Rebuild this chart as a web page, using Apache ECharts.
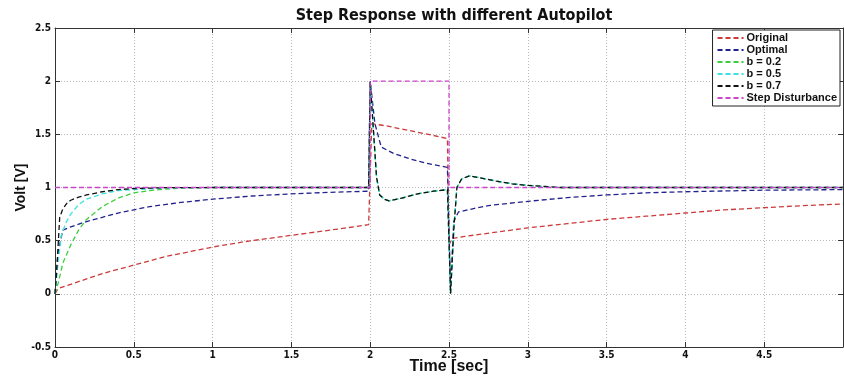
<!DOCTYPE html>
<html>
<head>
<meta charset="utf-8">
<script src="https://cdn.jsdelivr.net/npm/echarts@6/dist/echarts.min.js"></script>
<style>
  html, body { margin: 0; padding: 0; background: #fff; }
  #chart { width: 844px; height: 376px; }
</style>
</head>
<body>
<div id="chart"></div>
<script>
// values, [time, volt]
const original = [[0, 0], [0.02, 0.05], [0.1, 0.09], [0.2, 0.14], [0.3, 0.19], [0.4, 0.23], [0.5, 0.27],
  [0.6, 0.31], [0.7, 0.35], [0.8, 0.38], [0.9, 0.41], [1.0, 0.44], [1.2, 0.49], [1.4, 0.53], [1.6, 0.57],
  [1.8, 0.61], [1.99, 0.65], [2.01, 1.6], [2.1, 1.58], [2.2, 1.55], [2.3, 1.52], [2.4, 1.49], [2.49, 1.46],
  [2.5, 0.46], [2.52, 0.52], [2.6, 0.54], [2.8, 0.58], [3.0, 0.62], [3.25, 0.66], [3.5, 0.7], [3.75, 0.73],
  [4.0, 0.76], [4.25, 0.79], [4.5, 0.81], [4.75, 0.83], [5.0, 0.845]]

const optimal = [[0, 0], [0.02, 0.4], [0.05, 0.6], [0.1, 0.63], [0.2, 0.68], [0.3, 0.72], [0.4, 0.76],
  [0.5, 0.79], [0.6, 0.82], [0.8, 0.86], [1.0, 0.89], [1.25, 0.92], [1.5, 0.94], [1.75, 0.955], [1.99, 0.965],
  [2.0, 2.0], [2.03, 1.6], [2.07, 1.38], [2.15, 1.32], [2.25, 1.27], [2.35, 1.23], [2.49, 1.19], [2.5, 0.6],
  [2.51, 0.05], [2.53, 0.68], [2.56, 0.77], [2.65, 0.8], [2.75, 0.83], [3.0, 0.87], [3.25, 0.905], [3.5, 0.93],
  [3.75, 0.95], [4.0, 0.96], [4.5, 0.975], [5.0, 0.98]]

const b02 = [[0, 0], [0.02, 0.1], [0.05, 0.29], [0.1, 0.46], [0.15, 0.6], [0.2, 0.7], [0.3, 0.82], [0.4, 0.9],
  [0.5, 0.95], [0.6, 0.97], [0.7, 0.985], [0.8, 0.995], [1.0, 1.0], [1.99, 1.0],
  [2.0, 2.0], [2.02, 1.55], [2.04, 1.1], [2.06, 0.93], [2.09, 0.89], [2.12, 0.875], [2.2, 0.9], [2.3, 0.94],
  [2.4, 0.965], [2.49, 0.98], [2.5, 0.5], [2.51, 0.0], [2.53, 0.6], [2.55, 1.0], [2.58, 1.08], [2.63, 1.11],
  [2.7, 1.09], [2.8, 1.06], [2.9, 1.035], [3.0, 1.02], [3.1, 1.01], [3.2, 1.0], [5.0, 1.0]]

const b05 = [[0, 0], [0.02, 0.3], [0.04, 0.55], [0.07, 0.67], [0.1, 0.75], [0.15, 0.84], [0.2, 0.89],
  [0.3, 0.94], [0.4, 0.97], [0.5, 0.98], [0.7, 0.995], [1.0, 1.0], [1.99, 1.0],
  [2.0, 2.0], [2.02, 1.55], [2.04, 1.1], [2.06, 0.93], [2.09, 0.89], [2.12, 0.875], [2.2, 0.9], [2.3, 0.94],
  [2.4, 0.965], [2.49, 0.98], [2.5, 0.5], [2.51, 0.0], [2.53, 0.6], [2.55, 1.0], [2.58, 1.08], [2.63, 1.11],
  [2.7, 1.09], [2.8, 1.06], [2.9, 1.035], [3.0, 1.02], [3.1, 1.01], [3.2, 1.0], [5.0, 1.0]]

const b07 = [[0, 0], [0.01, 0.2], [0.03, 0.72], [0.05, 0.8], [0.08, 0.86], [0.1, 0.88], [0.15, 0.91],
  [0.2, 0.93], [0.3, 0.96], [0.4, 0.98], [0.5, 0.99], [0.7, 0.998], [1.0, 1.0], [1.99, 1.0],
  [2.0, 2.0], [2.02, 1.55], [2.04, 1.1], [2.06, 0.93], [2.09, 0.89], [2.12, 0.875], [2.2, 0.9], [2.3, 0.94],
  [2.4, 0.965], [2.49, 0.98], [2.5, 0.5], [2.51, 0.0], [2.53, 0.6], [2.55, 1.0], [2.58, 1.08], [2.63, 1.11],
  [2.7, 1.09], [2.8, 1.06], [2.9, 1.035], [3.0, 1.02], [3.1, 1.01], [3.2, 1.0], [5.0, 1.0]]

const stepDist = [[0, 1], [2, 1], [2, 2], [2.5, 2], [2.5, 1], [5, 1]]

const seriesNames = ['Original', 'Optimal', 'b = 0.2', 'b = 0.5', 'b = 0.7', 'Step Disturbance']
const seriesColors = ['#cc3a3a', '#22228f', '#3ccf3c', '#3fe0e0', '#111111', '#cc44cc']
const seriesData = [original, optimal, b02, b05, b07, stepDist]

const narrow = 'Liberation Sans Narrow, DejaVu Sans Condensed, Arial, sans-serif'
const labelFont = { fontFamily: narrow, fontWeight: 'bold', fontSize: 10, color: '#111' }

const chart = echarts.init(document.getElementById('chart'), null, { renderer: 'canvas' })

const gridLine = { show: true, lineStyle: { color: '#b8b8b8', type: [1, 2], width: 1 } }
const axisLine = { show: true, onZero: false, lineStyle: { color: '#333', width: 1 } }
const tick = { inside: true, length: 5, lineStyle: { color: '#333' } }

chart.setOption({
  animation: false,
  backgroundColor: '#fff',
  title: {
    text: 'Step Response with different Autopilot',
    left: 449,
    top: 3,
    textAlign: 'center',
    textStyle: { fontFamily: narrow, fontWeight: 'bold', fontSize: 16, color: '#111' }
  },
  // keep the plot box fixed, names sit in the margins
  grid: { left: 55, right: 1, top: 28, bottom: 29, outerBoundsMode: 'none' },
  legend: {
    data: seriesNames,
    orient: 'vertical',
    right: 4,
    top: 30,
    backgroundColor: '#fff',
    borderColor: '#222',
    borderWidth: 1,
    borderRadius: 0,
    padding: [2, 3, 2, 4],
    itemWidth: 26,
    itemHeight: 8,
    itemGap: 0,
    itemStyle: { opacity: 0 },
    textStyle: { fontFamily: 'Arial, sans-serif', fontWeight: 'bold', fontSize: 11, lineHeight: 12, color: '#111', padding: [0, 0, 0, -2] }
  },
  xAxis: [
    {
      type: 'value', min: 0, max: 5, interval: 0.5,
      name: 'Time [sec]', nameLocation: 'middle', nameGap: 12, nameMoveOverlap: false,
      nameTextStyle: { fontFamily: 'Arial, sans-serif', fontWeight: 'bold', fontSize: 16, color: '#111' },
      axisLine, axisTick: tick,
      axisLabel: Object.assign({ margin: 3, formatter: v => (v >= 5 ? '' : String(v)) }, labelFont),
      splitLine: gridLine
    },
    {
      type: 'value', min: 0, max: 5, interval: 0.5, position: 'top',
      axisLine, axisTick: tick,
      axisLabel: { show: false }, splitLine: { show: false }
    }
  ],
  yAxis: [
    {
      type: 'value', min: -0.5, max: 2.5, interval: 0.5,
      name: 'Volt [V]', nameLocation: 'middle', nameGap: 27, nameMoveOverlap: false,
      nameTextStyle: { fontFamily: 'Arial, sans-serif', fontWeight: 'bold', fontSize: 14, color: '#111' },
      axisLine, axisTick: tick,
      axisLabel: Object.assign({ margin: 4 }, labelFont),
      splitLine: gridLine
    },
    {
      type: 'value', min: -0.5, max: 2.5, interval: 0.5, position: 'right',
      axisLine, axisTick: tick,
      axisLabel: { show: false }, splitLine: { show: false }
    }
  ],
  series: seriesNames.map((name, i) => ({
    name,
    type: 'line',
    xAxisIndex: 0,
    yAxisIndex: 0,
    data: seriesData[i],
    symbol: 'none',
    color: seriesColors[i],
    lineStyle: { color: seriesColors[i], width: 1.3, type: [5, 3] },
    z: 2 + i
  }))
})
</script>
</body>
</html>
